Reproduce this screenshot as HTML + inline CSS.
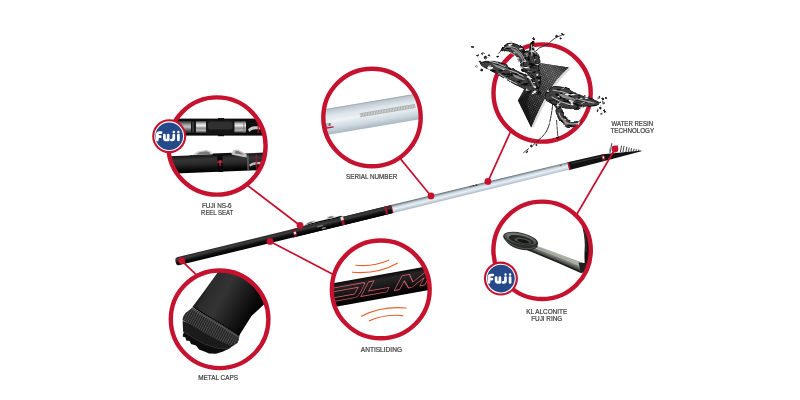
<!DOCTYPE html>
<html>
<head>
<meta charset="utf-8">
<title>Rod features</title>
<style>
  html, body { margin: 0; padding: 0; background: #ffffff; }
  body { width: 800px; height: 400px; overflow: hidden; font-family: "Liberation Sans", sans-serif; }
  svg { display: block; }
  .lbl { font-family: "Liberation Sans", sans-serif; font-size: 7px; fill: #3d3d3d; stroke: #3d3d3d; stroke-width: 0.22; text-anchor: middle; }
  .ring { fill: none; stroke: #c4122f; }
  .lead { stroke: #c4122f; stroke-width: 1.7; fill: none; }
  .dot { fill: #c4122f; }
</style>
</head>
<body>
<svg width="800" height="400" viewBox="0 0 800 400">
  <defs>
    <!-- rod gradients (perpendicular to rod axis) -->
    <linearGradient id="gBlack" x1="0" y1="0" x2="0" y2="1">
      <stop offset="0" stop-color="#2a2a2a"/>
      <stop offset="0.3" stop-color="#3c3c3c"/>
      <stop offset="0.6" stop-color="#111111"/>
      <stop offset="1" stop-color="#000000"/>
    </linearGradient>
    <linearGradient id="gSilver" x1="0" y1="0" x2="0" y2="1">
      <stop offset="0" stop-color="#4b5257"/>
      <stop offset="0.14" stop-color="#8d989f"/>
      <stop offset="0.3" stop-color="#c6d2db"/>
      <stop offset="0.55" stop-color="#e9f0f5"/>
      <stop offset="0.8" stop-color="#c3cfd9"/>
      <stop offset="1" stop-color="#a7b4be"/>
    </linearGradient>
    <linearGradient id="gMetal" x1="0" y1="0" x2="0" y2="1">
      <stop offset="0" stop-color="#3a3a3a"/>
      <stop offset="0.2" stop-color="#b9b9b9"/>
      <stop offset="0.4" stop-color="#f1f1f1"/>
      <stop offset="0.6" stop-color="#8a8a8a"/>
      <stop offset="0.8" stop-color="#b5b5b5"/>
      <stop offset="1" stop-color="#3b3b3b"/>
    </linearGradient>
    <linearGradient id="gMetalDark" x1="0" y1="0" x2="0" y2="1">
      <stop offset="0" stop-color="#333"/>
      <stop offset="0.3" stop-color="#9a9a9a"/>
      <stop offset="0.5" stop-color="#c4c4c4"/>
      <stop offset="0.75" stop-color="#6a6a6a"/>
      <stop offset="1" stop-color="#2a2a2a"/>
    </linearGradient>
    <linearGradient id="gBlackBig" x1="0" y1="0" x2="0" y2="1">
      <stop offset="0" stop-color="#161616"/>
      <stop offset="0.25" stop-color="#353535"/>
      <stop offset="0.5" stop-color="#2a2a2a"/>
      <stop offset="0.8" stop-color="#0c0c0c"/>
      <stop offset="1" stop-color="#000"/>
    </linearGradient>
    <linearGradient id="gTube" x1="0" y1="0" x2="0" y2="1">
      <stop offset="0" stop-color="#96a1a9"/>
      <stop offset="0.06" stop-color="#bcc7cf"/>
      <stop offset="0.28" stop-color="#dde5eb"/>
      <stop offset="0.5" stop-color="#edf2f5"/>
      <stop offset="0.78" stop-color="#cdd8e0"/>
      <stop offset="1" stop-color="#a9b6c0"/>
    </linearGradient>
    <pattern id="pSerial" width="1.6" height="4" patternUnits="userSpaceOnUse" x="-12" y="-3">
      <rect x="0" y="0.6" width="0.8" height="2.8" fill="#d6d8d6"/>
    </pattern>
    <linearGradient id="gBand" x1="0" y1="0" x2="0" y2="1">
      <stop offset="0" stop-color="#0a0a0a"/>
      <stop offset="0.2" stop-color="#262626"/>
      <stop offset="0.45" stop-color="#1c1c1c"/>
      <stop offset="0.8" stop-color="#090909"/>
      <stop offset="1" stop-color="#000"/>
    </linearGradient>
    <linearGradient id="gTubeCap" gradientUnits="userSpaceOnUse" x1="198" y1="296" x2="252" y2="326">
      <stop offset="0" stop-color="#1a1a1a"/>
      <stop offset="0.1" stop-color="#2b2b2b"/>
      <stop offset="0.35" stop-color="#343434"/>
      <stop offset="0.6" stop-color="#1f1f1f"/>
      <stop offset="0.85" stop-color="#0a0a0a"/>
      <stop offset="1" stop-color="#020202"/>
    </linearGradient>
    <pattern id="pKnurl" width="2.2" height="10" patternUnits="userSpaceOnUse" patternTransform="rotate(28)">
      <rect x="0" y="0" width="0.9" height="10" fill="#6a6a6a"/>
    </pattern>
    <linearGradient id="gLeg" gradientUnits="userSpaceOnUse" x1="556" y1="250" x2="551" y2="262">
      <stop offset="0" stop-color="#5c605b"/>
      <stop offset="0.25" stop-color="#b5b9b2"/>
      <stop offset="0.5" stop-color="#7d827c"/>
      <stop offset="0.72" stop-color="#40433f"/>
      <stop offset="1" stop-color="#1f211f"/>
    </linearGradient>
    <pattern id="pCarbon" width="2.4" height="2.4" patternUnits="userSpaceOnUse" patternTransform="rotate(18)">
      <rect x="0" y="0" width="1.2" height="1.2" fill="#7a7a7a"/>
      <rect x="1.2" y="1.2" width="1.2" height="1.2" fill="#7a7a7a"/>
      <rect x="1.2" y="0" width="1.2" height="1.2" fill="#1c1c1c"/>
      <rect x="0" y="1.2" width="1.2" height="1.2" fill="#1c1c1c"/>
    </pattern>
    <linearGradient id="gSheet" gradientUnits="userSpaceOnUse" x1="520" y1="110" x2="566" y2="66">
      <stop offset="0" stop-color="#000" stop-opacity="0.5"/>
      <stop offset="0.4" stop-color="#000" stop-opacity="0.1"/>
      <stop offset="0.7" stop-color="#fff" stop-opacity="0.1"/>
      <stop offset="1" stop-color="#000" stop-opacity="0.4"/>
    </linearGradient>
    <filter id="fWater" x="-15%" y="-15%" width="130%" height="130%" color-interpolation-filters="sRGB">
      <feTurbulence type="fractalNoise" baseFrequency="0.11" numOctaves="2" seed="7" result="n"/>
      <feDisplacementMap in="SourceGraphic" in2="n" scale="3.5" xChannelSelector="R" yChannelSelector="G" result="d"/>
      <feTurbulence type="fractalNoise" baseFrequency="0.16 0.3" numOctaves="2" seed="4" result="n2"/>
      <feColorMatrix in="n2" type="matrix" values="0 0 0 0 0.93  0 0 0 0 0.93  0 0 0 0 0.93  7 0 0 0 -4.25" result="spots"/>
      <feComposite in="spots" in2="d" operator="in" result="s2"/>
      <feColorMatrix in="n2" type="matrix" values="0 0 0 0 0.05  0 0 0 0 0.05  0 0 0 0 0.05  0 7 0 0 -3.7" result="dark"/>
      <feComposite in="dark" in2="d" operator="in" result="d2"/>
      <feMerge><feMergeNode in="d"/><feMergeNode in="d2"/><feMergeNode in="s2"/></feMerge>
    </filter>
    <clipPath id="cFuji"><rect x="-14" y="-14" width="28" height="19.9"/></clipPath>
    <clipPath id="c1"><circle cx="217" cy="146" r="47.5"/></clipPath>
    <clipPath id="c2"><circle cx="372" cy="117.5" r="47.5"/></clipPath>
    <clipPath id="c3"><circle cx="542.1" cy="93" r="47.5"/></clipPath>
    <clipPath id="c4"><circle cx="542.1" cy="250.3" r="47.5"/></clipPath>
    <clipPath id="c5"><circle cx="219.6" cy="319.3" r="47.5"/></clipPath>
    <clipPath id="c6"><circle cx="380.75" cy="289.4" r="47.5"/></clipPath>
  </defs>

  <rect x="0" y="0" width="800" height="400" fill="#ffffff"/>

  <!-- ================= ROD ================= -->
  <g id="rod" transform="translate(175.6,261.8) rotate(-13.69)">
    <!-- local x axis runs along rod; butt at 0, tip at ~479 -->
    <!-- butt black section -->
    <rect x="0" y="-4.1" width="224" height="8.2" rx="3.2" fill="url(#gBlack)"/>
    <rect x="120" y="-4.1" width="104" height="8.2" fill="url(#gBlack)"/>
    <!-- red/white ring before reel seat -->
    <rect x="121.2" y="-4.1" width="2.8" height="8.2" fill="#7d1020"/>
    <rect x="121.6" y="-1" width="2.4" height="2.6" fill="#f1d6d9"/>
    <!-- reel seat -->
    <path d="M131,-4.1 L136,-5.4 L172,-5.6 L174,-4.1 Z" fill="#0c0c0c"/>
    <path d="M132.5,-4.3 L137.5,-7.2 L144.5,-7.6 L146.5,-5.6 L140,-5.2 Z" fill="#cfcfcf"/>
    <path d="M135.5,-5 L138.5,-6.6 L143.5,-6.8 L141,-5.4 Z" fill="#6d6d6d"/>
    <path d="M156.5,-5.6 L158,-8 L163,-8 L167,-5.4 L162,-5.2 Z" fill="#cfcfcf"/>
    <path d="M158.6,-6 L159.4,-7.2 L162.4,-7.2 L164.4,-5.8 Z" fill="#6d6d6d"/>
    <rect x="146" y="-1.2" width="6" height="1.4" fill="#8a8a8a" opacity="0.8"/>
    <rect x="150" y="1.8" width="4" height="1.2" fill="#bdbdbd" opacity="0.8"/>
    <!-- ring after reel seat -->
    <rect x="170.6" y="-4.6" width="2.8" height="4" fill="#e9e0e0"/>
    <rect x="170.6" y="-0.8" width="2.8" height="4.9" fill="#9e1226"/>
    <!-- red ring before silver -->
    <rect x="215.6" y="-4.1" width="2.2" height="8.2" fill="#a3142b"/>
    <rect x="222.2" y="-4.1" width="1.1" height="8.2" fill="#a3142b"/>
    <!-- silver section -->
    <polygon points="223.2,-4.2 405,-3.75 405,3.75 223.2,4.2" fill="url(#gSilver)"/>
    <!-- tiny marks on silver -->
    <rect x="304" y="-3.9" width="1.4" height="1.2" fill="#b3142b"/>
    <rect x="306.6" y="-4" width="1.6" height="1.3" fill="#222"/>
    <rect x="309.6" y="-4" width="1.6" height="1.3" fill="#222"/>
    <rect x="396" y="-3" width="1.6" height="1" fill="#b3142b" opacity="0.8"/>
    <!-- tip black section -->
    <polygon points="404.4,-3.9 440.6,-3.4 478.8,2.1 478.8,2.8 440.6,3.5 404.4,3.9" fill="#121212"/>
    <polygon points="408,-2.4 440,-1.9 440,-0.9 408,-1.2" fill="#3a3a3a"/>
    <rect x="404.2" y="-3.9" width="1.5" height="7.8" fill="#b3142b"/>
    <rect x="439" y="-3.4" width="2.4" height="6.8" fill="#8d1226"/>
    <rect x="439.4" y="-1.2" width="1.8" height="2.2" fill="#f3e3e3"/>
    <!-- tip guides -->
  </g>
  <!-- tip guides (absolute coords) -->
  <g fill="none" stroke="#333" stroke-width="0.9" stroke-linecap="round">
    <line x1="610" y1="152.6" x2="611.8" y2="143.6"/>
    <line x1="609.4" y1="151.6" x2="610.4" y2="147.2" stroke="#999"/>
    <line x1="616.5" y1="151.6" x2="617.2" y2="145.6"/>
    <line x1="620.5" y1="151.6" x2="621.5" y2="146.1"/>
    <line x1="623" y1="151.6" x2="624" y2="146.2"/>
    <line x1="626" y1="151.6" x2="626.8" y2="147.1"/>
    <line x1="628.5" y1="151.5" x2="629.2" y2="148"/>
    <line x1="631" y1="151.5" x2="631.5" y2="148.5"/>
    <line x1="633.5" y1="151.3" x2="634" y2="149"/>
    <line x1="636" y1="151.2" x2="636.3" y2="149.5"/>
    <line x1="638.5" y1="151" x2="638.7" y2="149.8"/>
  </g>

  <!-- ================= LEADER LINES ================= -->
  <g class="lead">
    <line x1="243" y1="181.9" x2="300" y2="225.5"/>
    <line x1="397" y1="154.6" x2="431" y2="196"/>
    <line x1="512" y1="128.5" x2="488" y2="181.4"/>
    <line x1="615" y1="149" x2="573" y2="220.7"/>
    <line x1="181.6" y1="260.6" x2="200" y2="278.3"/>
    <line x1="270" y1="241.4" x2="338" y2="276.9"/>
  </g>
  <g class="dot">
    <circle cx="300" cy="225.5" r="3.4"/>
    <circle cx="431" cy="195.9" r="3.4"/>
    <circle cx="487.9" cy="181.4" r="3.4"/>
    <circle cx="615" cy="149" r="3.4"/>
    <circle cx="181.6" cy="260.6" r="3.4"/>
    <circle cx="270" cy="241.4" r="3.4"/>
  </g>

  <!-- ================= CIRCLE 1 : reel seat ================= -->
  <g id="circ1">
    <circle cx="217" cy="146" r="49" fill="#ffffff"/>
    <g clip-path="url(#c1)" id="c1content">
      <!-- top reel seat (horizontal) -->
      <rect x="170" y="118.6" width="100" height="17" fill="#0b0b0b"/>
      <rect x="170" y="121" width="100" height="11.8" fill="#2b2b2b"/>
      <!-- left silver barrel pieces -->
      <rect x="178" y="121.2" width="9" height="11.4" fill="url(#gMetalDark)"/>
      <rect x="187" y="121.2" width="4" height="11.4" fill="url(#gMetalDark)"/>
      <rect x="191" y="121.2" width="5" height="11.4" fill="#161616"/>
      <rect x="192.6" y="122" width="0.8" height="10" fill="#6a6a6a"/>
      <rect x="195" y="121.2" width="2" height="11.4" fill="#1a1a1a"/>
      <rect x="196" y="121" width="10.5" height="11.8" fill="url(#gMetal)"/>
      <!-- central black hood -->
      <rect x="206" y="119.6" width="28.5" height="15" rx="2.5" fill="#151515"/>
      <rect x="208" y="121.6" width="24.5" height="8" rx="2.5" fill="#333333" opacity="0.9"/>
      <rect x="218" y="118" width="6" height="2" fill="#111"/>
      <rect x="218" y="134.4" width="6" height="1.8" fill="#111"/>
      <!-- right silver piece -->
      <rect x="234.5" y="121.2" width="11.5" height="11.4" fill="url(#gMetal)"/>
      <rect x="243.4" y="121.2" width="0.9" height="11.4" fill="#777"/>
      <!-- right tube -->
      <rect x="246" y="120.5" width="24" height="13" fill="#0e0e0e"/>
      <path d="M248,129.5 Q250,126.5 255,126.3 L270,126.3 L270,129.2 L256,129.2 Q251,129.5 249.5,132 Z" fill="#c9c9c9"/>
      <rect x="257.5" y="121" width="1.6" height="12" fill="#b3122b" opacity="0.8"/>

      <!-- bottom reel seat (slightly tilted) -->
      <g transform="rotate(-2.2 220 163)">
        <rect x="168" y="154.3" width="104" height="17.4" fill="url(#gBlackBig)"/>
        <!-- hood 1 -->
        <path d="M192,154.6 L198,150.6 L207,149.6 L211.5,151.2 L212.5,154.6 Z" fill="#c9c9c9"/>
        <path d="M196.5,153.6 L200,151.4 L207,150.8 L210,152 L210.5,153.8 Z" fill="#7a7a7a"/>
        <rect x="190" y="154" width="26" height="1.4" fill="#222"/>
        <!-- hood 2 -->
        <path d="M231.5,155 L234,150.6 L238.5,150.2 L247,155.2 L247,158.6 L240,157 Z" fill="#c4c4c4"/>
        <path d="M235,153.8 L236,151.6 L238.5,151.6 L244.5,155.4 L240,155 Z" fill="#777"/>
        <rect x="213" y="153.2" width="19" height="2.4" fill="#111"/>
        <!-- red trim ring -->
        <rect x="217.4" y="155.4" width="5.4" height="16.6" fill="#0a0a0a"/>
        <rect x="219.2" y="160" width="1.8" height="6" fill="#a5142a"/>
        <rect x="217.6" y="160.6" width="5" height="2.6" fill="#c23a4a" opacity="0.7"/>
        <!-- right end -->
        <rect x="247" y="156.4" width="2" height="15" fill="#6b6b6b" opacity="0.7"/>
        <path d="M249,165.5 Q253,163.2 258,163.4 L272,163.4 L272,165.8 L258,165.8 Q253,166 250,168 Z" fill="#b9b9b9"/>
        <rect x="255.6" y="156" width="1.6" height="15" fill="#a5142a" opacity="0.8"/>
      </g>
    </g>
    <circle class="ring" cx="217" cy="146" r="48.6" stroke-width="4.4"/>
    <!-- Fuji badge -->
    <g id="fuji1" transform="translate(169.2,136.2)" opacity="0.999">
      <circle r="17" fill="#c4122f"/>
      <circle r="14.9" fill="#ffffff"/>
      <circle r="13.8" fill="#254989"/>
      <g fill="none" stroke="#ffffff" stroke-width="2.7" stroke-linecap="round" stroke-linejoin="round" transform="translate(-0.5,0.1)">
        <path d="M-11.4,3.7 L-11.4,-1.5 Q-11.4,-3.7 -9.2,-3.7 L-7.6,-3.7 M-11.4,0.4 L-8.4,0.4"/>
        <path d="M-4.3,-1.2 L-4.3,1.9 Q-4.3,3.7 -2.4,3.7 Q-0.5,3.7 -0.5,1.9 L-0.5,-1.2 M-0.5,1.9 L-0.5,3.7"/>
        <path d="M5.1,-1.2 L5.1,1.8 Q5.1,3.7 3.2,3.7 L2.7,3.7"/>
        <path d="M9.7,-1.2 L9.7,3.7"/>
        <path d="M5.1,-4.3 L5.1,-4.2 M9.7,-4.3 L9.7,-4.2" stroke-width="2.5"/>
      </g>
    </g>
  </g>

  <!-- ================= CIRCLE 2 : serial number ================= -->
  <g id="circ2">
    <circle cx="372" cy="117.5" r="49" fill="#ffffff"/>
    <g clip-path="url(#c2)" id="c2content">
      <g transform="translate(372,114.3) rotate(-9.6)">
        <rect x="-60" y="-13" width="120" height="26" fill="url(#gTube)"/>
        <!-- serial strip -->
        <rect x="-12" y="-3" width="56" height="4" fill="#a9adab"/>
        <rect x="-12" y="-3" width="56" height="4" fill="url(#pSerial)" transform="translate(0,0)"/>
        <!-- tiny logo at left -->
        <text x="-51" y="4.6" font-family="Liberation Sans, sans-serif" font-style="italic" font-weight="bold" font-size="4.2" fill="#333">NCE</text>
        <rect x="-50" y="5.3" width="10" height="1.4" fill="#c4122f"/>
      </g>
    </g>
    <circle class="ring" cx="372" cy="117.5" r="48.7" stroke-width="4.4"/>
  </g>

  <!-- ================= CIRCLE 3 : water resin ================= -->
  <g id="circ3">
    <circle cx="542.1" cy="93" r="49" fill="#ffffff"/>
    <circle class="ring" cx="542.1" cy="93" r="48.6" stroke-width="4.4"/>
    <g id="c3content">
      <!-- carbon sheet -->
      <path id="sheet" d="M539.4,63 L568.8,67.6 Q556,79 548,93 Q539.5,108 531.3,127.6 L518,100.6 Q527,84 539.4,63 Z" fill="#2b2b2b"/>
      <path d="M539.4,63 L568.8,67.6 Q556,79 548,93 Q539.5,108 531.3,127.6 L518,100.6 Q527,84 539.4,63 Z" fill="url(#pCarbon)"/>
      <path d="M539.4,63 L568.8,67.6 Q556,79 548,93 Q539.5,108 531.3,127.6 L518,100.6 Q527,84 539.4,63 Z" fill="url(#gSheet)"/>
      <path d="M568.8,67.6 Q556,79 548,93 Q539.5,108 531.3,127.6 L533.6,127.2 Q541.5,109 550,94.4 Q558,80.4 570.6,69 Z" fill="#d9d9d9"/>
      <path d="M518,100.6 L531.3,127.6 L527.4,104 L530,88 Z" fill="#0f0f0f" opacity="0.55"/>

      <!-- upper-left splash -->
      <g fill="#404040" stroke="#0e0e0e" stroke-width="0.9" stroke-linejoin="round" filter="url(#fWater)">
        <path d="M500.8,50.6 Q502.5,46 507.4,43.6 Q512,42.2 517.6,44.8 Q524.6,48.6 528,56 Q530.6,64 529.6,73 L522,71 Q521.6,64 517.6,58.6 Q513.6,53 508.6,51 Q505,50 502.6,51.8 Z"/>
        <path d="M523,53 Q527,50 529.6,51 L531,41.6 L532.6,41.4 L534,51 Q538,54.6 540,61 Q539,68 540.6,76 Q541,86 537,93 Q532,88 528.6,80 Q524.6,70 523,62 Z"/>
        <path d="M529.4,57 Q530.6,48 531,41.6 L532.6,41.4 Q533,50 534.4,57 Q536.4,63 537,68 L530.6,68 Q529.6,62 529.4,57 Z"/>
        <path d="M480.5,62.6 Q486,60.6 492.8,61.4 Q499,62 505,64.1 Q510.6,66.6 515.5,70.3 L522.5,73.8 Q528,76 533,80 L538.6,90 L533,94 Q530,92.6 527.8,91.3 Q525,89.4 522.5,87.8 Q517,85.4 512,82.5 Q505.6,79 499.8,75.5 Q494,72.4 489.3,69.4 Q484,66.6 480.5,64.1 Z"/>
        
        <path d="M526,70 Q531,74 535,82 Q538,89 541,93 L536,93 Q531,88 528,81 Z"/>
        <circle cx="533.1" cy="38.6" r="1.1"/>
        <circle cx="472" cy="47" r="0.7"/>
        <circle cx="477.6" cy="56.2" r="0.9"/>
        <circle cx="482.4" cy="53.6" r="0.8"/>
        <circle cx="485.6" cy="57.6" r="1.2"/>
        <circle cx="476.2" cy="66.8" r="0.8"/>
        <circle cx="481.8" cy="70" r="1"/>
        <circle cx="489" cy="55.4" r="0.7"/>
        <circle cx="497.6" cy="56.4" r="0.7"/>
        <circle cx="480" cy="61.6" r="0.7"/>
        <circle cx="557.6" cy="36.2" r="0.9"/>
        <circle cx="563.2" cy="34.2" r="0.9"/>
        <circle cx="560.6" cy="38.4" r="0.6"/>
      </g>
      <path d="M534.6,52 Q539,47 545,45.6 Q550,43 553,39.6 Q557,36.4 561.6,35.2" fill="none" stroke="#2a2a2a" stroke-width="0.9" stroke-linecap="round"/>
      <path d="M500.8,51 L498.8,53.4" fill="none" stroke="#2a2a2a" stroke-width="0.9" stroke-linecap="round"/>
      <!-- highlights upper-left -->
      <g fill="none" stroke="#e9e9e9" stroke-width="0.8" stroke-linecap="round" opacity="0.9">
        <path d="M504,48.4 Q509,45 515.6,48 Q521.6,52 524.6,59.6"/>
        <path d="M509.6,52.4 Q516,54.6 519.6,61.6"/>
        <path d="M531.4,45 L532,56"/>
        <path d="M489,61 Q497,62.6 505,66.4"/>
        <path d="M508,69.6 Q516,72 523,76"/>
        <path d="M500,74.6 Q508,79.6 517,84"/>
        <path d="M527,74 Q531,80 534,87"/>
      </g>
      <g fill="#8d8d8d">
        <path d="M510,47.6 Q516,48.6 520.6,54 Q523,58 523.6,62 Q520,56 516,52.6 Q513,50.6 510,47.6 Z"/>
        <path d="M492,63.6 Q500,65.6 508,69.6 Q502,69.6 496,67 Z"/>
        <path d="M512,73.4 Q519,76 525.6,80 Q520,80 515,77.4 Z"/>
      </g>

      <!-- lower-right splash -->
      <g fill="#404040" stroke="#0e0e0e" stroke-width="0.9" stroke-linejoin="round" filter="url(#fWater)">
        <path d="M549,88.5 Q552,86 556,86.5 Q560,86.6 563.5,87.6 Q570,90 575.5,93.5 Q582,96 588,98 Q594,99.6 597.6,101.6 L600.6,103.4 L596,105.4 Q591,106.6 586,106.8 Q579,108.4 572,108.6 Q565,108.4 560,106.8 Q555,105 551,102.5 Q547,100.6 545.5,99 Q545,95 546,93 Z"/>
        <path d="M556,109.5 Q556,113 557.5,116 Q558.6,119 560.5,121.5 Q563,124 566,125.5 Q569,126.8 572,126.8 Q575,126.4 577.5,125 L581.8,122.2 L577,121.6 Q574,122.2 571,121.5 Q568.4,120.4 566.5,118.5 Q564.6,116 563.5,113 Q562.4,110.4 561,108.4 Z"/>
        <path d="M550,100 Q554,104 557,109 L561,108.4 Q558,103.6 554,100 Z"/>
        <circle cx="598.6" cy="97.4" r="1"/>
        <circle cx="602.8" cy="99" r="0.9"/>
        <circle cx="600.4" cy="108" r="0.8"/>
        <circle cx="604.6" cy="110.6" r="0.8"/>
        <circle cx="603.6" cy="103" r="0.8"/>
        <circle cx="597.6" cy="110" r="0.6"/>
        <circle cx="606" cy="98" r="0.6"/>
        <circle cx="601.4" cy="113" r="0.6"/>
        <circle cx="557.8" cy="137.4" r="0.9"/>
        <circle cx="531.4" cy="147" r="0.9"/>
        <circle cx="526.6" cy="151.8" r="0.8"/>
        <circle cx="536.4" cy="145" r="0.6"/>
      </g>
      <path d="M552.8,103 Q552,112 550,121 Q548.6,128 546,132 Q542.6,137 538.8,139.6 Q535,143.6 531.6,146.6" fill="none" stroke="#2a2a2a" stroke-width="1" stroke-linecap="round" stroke-dasharray="7 1.2 4 1 6 1.6 3 1"/>
      <path d="M556.6,120.4 Q557,127 557.8,136" fill="none" stroke="#2a2a2a" stroke-width="0.9" stroke-linecap="round" stroke-dasharray="5 1.4 3 1.2"/>
      <path d="M528.6,148.6 Q526,150.6 523.6,152.6" fill="none" stroke="#2a2a2a" stroke-width="0.9" stroke-linecap="round"/>
      <g fill="none" stroke="#e9e9e9" stroke-width="0.8" stroke-linecap="round" opacity="0.9">
        <path d="M553,90 Q562,90.6 572,95.4"/>
        <path d="M576,98.6 Q585,101 594,103"/>
        <path d="M552,97 Q560,102.6 570,104.6"/>
        <path d="M559,113 Q561,120.6 568,123.6 Q573,124.6 577,123.4"/>
      </g>
      <g fill="#8d8d8d">
        <path d="M558,93 Q568,95.6 578,100 Q570,100 562,97.4 Z"/>
        <path d="M561.6,116 Q564,121 570,123.4 Q565,123.6 562.6,120.4 Z"/>
      </g>
    </g>
  </g>

  <!-- ================= CIRCLE 4 : KL ring ================= -->
  <g id="circ4">
    <circle cx="542.1" cy="250.3" r="49" fill="#ffffff"/>
    <g clip-path="url(#c4)" id="c4content">
      <!-- blank/rod at right edge -->
      <path d="M581.6,224 Q585.6,238 584.6,250 Q584,262 585.8,278 L593,278 L593,224 Z" fill="#141414"/>
      <path d="M584.4,232 Q586.8,242 586,252" fill="none" stroke="#4a4a4a" stroke-width="0.7"/>
      <!-- legs -->
      <path d="M530,243.6 Q548,249.6 585.5,264 L587,269.2 L581,272.4 Q551,259 523,247.8 Z" fill="url(#gLeg)"/>
      <path d="M536,248.2 Q556,255.2 581,266" fill="none" stroke="#b9beb6" stroke-width="0.9" opacity="0.85"/>
      <path d="M525,248.6 Q551,258.8 581,272.2" fill="none" stroke="#1c1e1c" stroke-width="1.5"/>
      <path d="M578.6,262.6 L587,263.2 L588.6,270.6 L581,273.2 Z" fill="#1d1f1d"/>
      <!-- ring -->
      <g transform="translate(520.6,239.6) rotate(13)">
        <path d="M-17.6,0.6 Q-12,9.4 1,9.8 Q13,9.8 18,3.4 L17.6,-1 Z" fill="#262926"/>
        <ellipse cx="0" cy="0" rx="17.8" ry="6.9" fill="#2c2f2c"/>
        <ellipse cx="-0.4" cy="-0.7" rx="16.4" ry="5.5" fill="#555a54"/>
        <ellipse cx="-1" cy="-1.6" rx="14" ry="3.8" fill="#6d726c"/>
        <ellipse cx="0.8" cy="0.2" rx="12.8" ry="4.1" fill="#232523"/>
        <ellipse cx="2.6" cy="0.7" rx="8.6" ry="2.7" fill="#4e534d"/>
        <ellipse cx="3" cy="1" rx="6.4" ry="1.8" fill="#141614"/>
        <path d="M-16,3 Q-6,9 6,8 Q13,7 16.6,3.6" fill="none" stroke="#70756f" stroke-width="0.7" opacity="0.8"/>
      </g>
    </g>
    <circle class="ring" cx="542.1" cy="250.3" r="48.7" stroke-width="4.4"/>
    <g id="fuji2" transform="translate(500.9,278.6)" opacity="0.999">
      <circle r="17" fill="#c4122f"/>
      <circle r="14.9" fill="#ffffff"/>
      <circle r="13.8" fill="#254989"/>
      <g fill="none" stroke="#ffffff" stroke-width="2.7" stroke-linecap="round" stroke-linejoin="round" transform="translate(-0.5,0.1)">
        <path d="M-11.4,3.7 L-11.4,-1.5 Q-11.4,-3.7 -9.2,-3.7 L-7.6,-3.7 M-11.4,0.4 L-8.4,0.4"/>
        <path d="M-4.3,-1.2 L-4.3,1.9 Q-4.3,3.7 -2.4,3.7 Q-0.5,3.7 -0.5,1.9 L-0.5,-1.2 M-0.5,1.9 L-0.5,3.7"/>
        <path d="M5.1,-1.2 L5.1,1.8 Q5.1,3.7 3.2,3.7 L2.7,3.7"/>
        <path d="M9.7,-1.2 L9.7,3.7"/>
        <path d="M5.1,-4.3 L5.1,-4.2 M9.7,-4.3 L9.7,-4.2" stroke-width="2.5"/>
      </g>
    </g>
  </g>

  <!-- ================= CIRCLE 5 : metal caps ================= -->
  <g id="circ5">
    <circle cx="219.6" cy="319.3" r="49" fill="#ffffff"/>
    <g clip-path="url(#c5)" id="c5content">
      <!-- tube body -->
      <path d="M231,254 L300,266 L266,302.5 L251.5,316 L239.2,335.5 Q219,322 205,314.5 Q197,310 192.8,306.6 L205,290 Z" fill="url(#gTubeCap)"/>
      <!-- plug -->
      <path d="M184,331 L182.6,336.4 L185.5,337.6 L186.2,340.4 L189.6,341 L191,344 L196,345.4 L199,349.4 L205,351.8 L209,353.6 L216,353.8 L222.5,351.8 L229,348.7 L236,343 L230,338 Z" fill="#0d0d0d"/>
      <!-- chamfer -->
      <path d="M182.6,321 L183.1,331.2 Q193,338.5 205,344.3 Q217,349.5 227.8,348.9 L237.6,342.5 L238.6,339 Z" fill="#1b1b1b"/>
      <path d="M183.1,331.2 Q193,338.5 205,344.3 Q217,349.5 227.8,348.9 L237.6,342.5" fill="none" stroke="#3a3a3a" stroke-width="0.8"/>
      <!-- knurled ring -->
      <path d="M192.6,307.4 Q198,311 205,315.2 Q221,324 239.4,335.9 L238.4,341 Q232,346.5 229.6,345 Q213,338.6 196.3,327.9 Q188,322.8 183.1,320.8 Q181.6,318.5 185.5,313 Z" fill="#232323"/>
      <path d="M192.6,307.4 Q198,311 205,315.2 Q221,324 239.4,335.9 L238.4,341 Q232,346.5 229.6,345 Q213,338.6 196.3,327.9 Q188,322.8 183.1,320.8 Q181.6,318.5 185.5,313 Z" fill="url(#pKnurl)" opacity="0.6"/>
      <path d="M191.6,308.6 Q198,312.6 205,316.8 Q221,325.6 238.8,337.2" fill="none" stroke="#5b5b5b" stroke-width="1.1" opacity="0.9"/>
      <path d="M192.8,306.6 Q198,310.2 205,314.5 Q221,323.4 239.4,335.4" fill="none" stroke="#000" stroke-width="1.2"/>
    </g>
    <circle class="ring" cx="219.6" cy="319.3" r="48.8" stroke-width="4.4"/>
  </g>

  <!-- ================= CIRCLE 6 : antisliding ================= -->
  <g id="circ6">
    <circle cx="380.75" cy="289.4" r="49" fill="#ffffff"/>
    <g clip-path="url(#c6)" id="c6content">
      <g transform="translate(381,286.6) rotate(-10.2)">
        <rect x="-60" y="-11.8" width="120" height="23.6" fill="url(#gBand)"/>
        <!-- outlined letters O L M -->
        <g fill="none" stroke="#dc5c68" stroke-width="0.8" stroke-linejoin="round" transform="translate(3.5,-0.4) skewX(-38)">
          <path d="M-58,-6.6 L-26,-6.6 Q-23,-6.6 -23,-4 L-23,4 Q-23,6.6 -26,6.6 L-58,6.6 Z"/>
          <path d="M-58,-3 L-28.5,-3 L-28.5,3 L-58,3"/>
          <path d="M-20,-6.6 L-14.5,-6.6 L-14.5,2.6 L6.5,2.6 L6.5,6.6 L-20,6.6 Z"/>
          <path d="M14,6.6 L14,-6.6 L21.5,-6.6 L30,1.6 L38.5,-6.6 L45,-6.6 L45,6.6 L40,6.6 L40,-0.8 L32,6.6 L28.5,6.6 L19.5,-1.2 L19.5,6.6 Z"/>
        </g>
      </g>
      <!-- orange vibration arcs -->
      <g fill="none" stroke="#e6602c" stroke-width="1.15" stroke-linecap="round">
        <path d="M356,265.2 Q373,267 388.6,260.2"/>
        <path d="M352.4,272.2 Q377,274.5 397.4,263.2"/>
        <path d="M361.5,316.2 Q381,306 406.2,308"/>
        <path d="M369.4,320.8 Q385,314 402.7,315.6"/>
      </g>
    </g>
    <circle class="ring" cx="380.75" cy="289.4" r="48.9" stroke-width="4.4"/>
  </g>

  <!-- ================= LABELS ================= -->
  <g id="labels" opacity="0.999">
    <text class="lbl" x="216.8" y="207.8" textLength="29.6" lengthAdjust="spacingAndGlyphs">FUJI NS-6</text>
    <text class="lbl" x="217.1" y="214.7" textLength="32" lengthAdjust="spacingAndGlyphs">REEL SEAT</text>
    <text class="lbl" x="371.6" y="178.7" textLength="51.2" lengthAdjust="spacingAndGlyphs">SERIAL NUMBER</text>
    <text class="lbl" x="632.3" y="126.2" textLength="41.5" lengthAdjust="spacingAndGlyphs">WATER RESIN</text>
    <text class="lbl" x="632.3" y="133.2" textLength="43.5" lengthAdjust="spacingAndGlyphs">TECHNOLOGY</text>
    <text class="lbl" x="546.7" y="314.2" textLength="41" lengthAdjust="spacingAndGlyphs">KL ALCONITE</text>
    <text class="lbl" x="546.7" y="321.2" textLength="31" lengthAdjust="spacingAndGlyphs">FUJI RING</text>
    <text class="lbl" x="218.1" y="380.3" textLength="39.8" lengthAdjust="spacingAndGlyphs">METAL CAPS</text>
    <text class="lbl" x="381.4" y="352.2" textLength="41.3" lengthAdjust="spacingAndGlyphs">ANTISLIDING</text>
  </g>
</svg>
</body>
</html>
